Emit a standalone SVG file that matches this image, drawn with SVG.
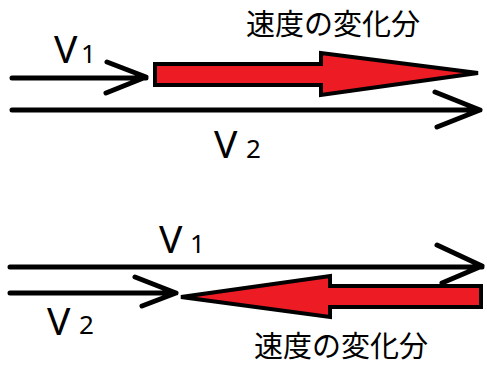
<svg xmlns="http://www.w3.org/2000/svg" width="487" height="367" viewBox="0 0 487 367">
  <style>
    .line { fill: none; stroke: #000; stroke-width: 5; stroke-linecap: round; stroke-linejoin: round; }
    .delta { fill: #ed1c24; stroke: #000; stroke-width: 4; stroke-linejoin: miter; }
    .v { font-family: "Noto Sans", "Liberation Sans", sans-serif; fill: #000; }
    .big { font-size: 39px; }
    .sub { font-size: 26px; }
    .jp { font-family: "Noto Sans CJK JP", "Noto Sans", sans-serif; font-size: 29px; fill: #000; }
  </style>

  <!-- upper case: V2 longer than V1, change points forward -->
  <g id="connectors-upper">
    <path class="line" d="M12 78 H146 M107 62 L146 77 L106 93"/>
    <path class="line" d="M12 110 H480 M435 92 L480 110 L437 127"/>
  </g>
  <g id="delta-upper">
    <polygon class="delta" points="155,64 321,64 321,53 478,73 321,95 321,85 155,85"/>
    <text class="jp" x="246" y="35">速度の変化分</text>
  </g>
  <g id="v1-upper">
    <text class="v big" x="54" y="63">V</text>
    <text class="v sub" x="81" y="63">1</text>
  </g>
  <g id="v2-upper">
    <text class="v big" x="214" y="158">V</text>
    <text class="v sub" x="246" y="158">2</text>
  </g>

  <!-- lower case: V2 shorter than V1, change points backward -->
  <g id="connectors-lower">
    <path class="line" d="M10 267 H482 M437 245 L482 266 L442 283"/>
    <path class="line" d="M10 293 H176 M135 277 L176 293 L142 306"/>
  </g>
  <g id="delta-lower">
    <polygon class="delta" points="481,286 330,286 330,276 181,297 330,317 330,307 481,307"/>
    <text class="jp" x="254" y="357">速度の変化分</text>
  </g>
  <g id="v1-lower">
    <text class="v big" x="159" y="253">V</text>
    <text class="v sub" x="190" y="253">1</text>
  </g>
  <g id="v2-lower">
    <text class="v big" x="47" y="335">V</text>
    <text class="v sub" x="79" y="334">2</text>
  </g>
</svg>
